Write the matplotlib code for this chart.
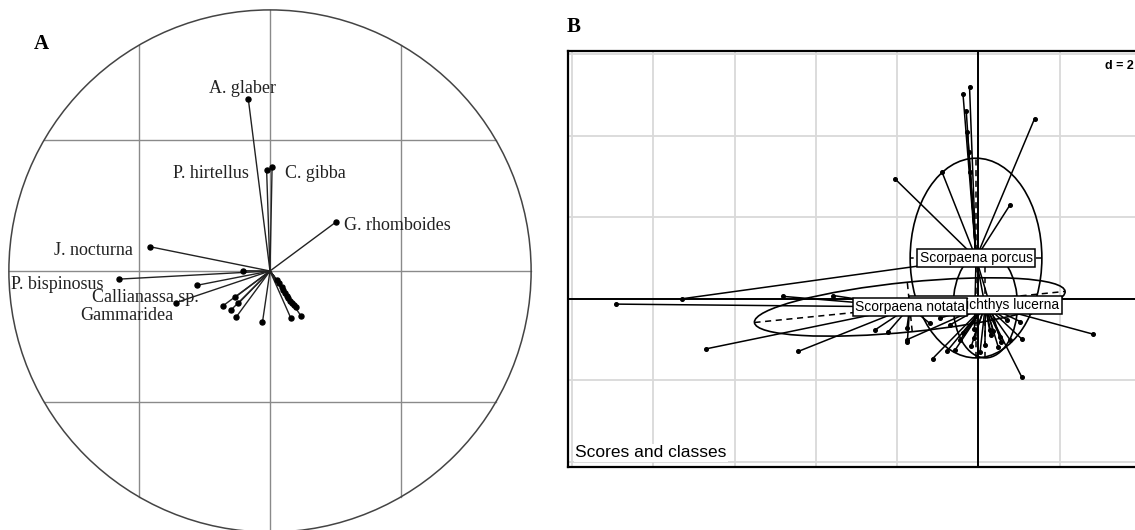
import numpy as np
import matplotlib
matplotlib.use("Agg")
import matplotlib.pyplot as plt
from matplotlib.patches import Circle, Ellipse

# ---- panel A : correlation circle (arrows) ----
arrow_x = [-0.083, -0.013, 0.008, 0.252, -0.460, -0.577, -0.360,
           -0.102, -0.281, -0.134, -0.121, -0.181, -0.149, -0.130,
           -0.029, 0.080, 0.118,
           0.026, 0.035, 0.045, 0.051, 0.057, 0.064, 0.070, 0.077, 0.083, 0.091, 0.100]
arrow_y = [0.658, 0.387, 0.397, 0.187, 0.093, -0.031, -0.121,
           0.001, -0.055, -0.101, -0.124, -0.134, -0.149, -0.177,
           -0.197, -0.181, -0.171,
           -0.034, -0.047, -0.060, -0.073, -0.086, -0.095, -0.105, -0.113, -0.121, -0.130, -0.139]

species = ["A. glaber", "P. hirtellus", "C. gibba", "G. rhomboides", "J. nocturna",
           "P. bispinosus", "Callianassa sp.", "Gammaridea"]
species_lx = [-0.106, -0.226, 0.172, 0.488, -0.677, -0.815, -0.479, -0.549]
species_ly = [0.700, 0.374, 0.374, 0.176, 0.080, -0.050, -0.101, -0.172]

# ---- panel B : scores and classes ----
classes = ["Chelidonichthys lucerna", "Scorpaena notata", "Scorpaena porcus"]
cent_x = [0.17, -1.69, -0.06]
cent_y = [-0.15, -0.20, 1.00]
ell_a = [1.30, 3.84, 2.45]      # semi major
ell_b = [0.79, 0.61, 1.62]      # semi minor
ell_ang = [90, 5.7, 90]

lucerna_x = [2.83, 1.07, -1.13, -0.78, -0.57, -0.18, 0.16, 0.49, 0.78, 1.07, 0.70, 1.03,
             -0.12, -0.37, 0.37, 0.53, 1.27, -0.94, -0.70, -0.45, 0.04, 0.29, -1.75]
lucerna_y = [-0.87, -1.93, -1.47, -1.29, -1.25, -1.17, -1.13, -1.19, -1.01, -0.99, -0.52, -0.56,
             -0.96, -0.84, -0.80, -0.93, -0.32, -0.47, -0.64, -1.01, -1.30, -0.76, -1.00]
notata_x = [-8.91, -4.81, -3.57, -6.71, -4.43, -2.54, -2.23, -1.75, -1.76, -1.20]
notata_y = [-0.13, 0.06, 0.08, -1.23, -1.29, -0.76, -0.82, -1.06, -0.72, -0.60]
porcus_x = [-0.22, -0.38, 1.38, -0.90, 0.78, -2.06, -7.30, -0.30, -0.27, -0.24, -0.20,
            0.55, 0.30, -0.10]
porcus_y = [5.21, 5.02, 4.42, 3.12, 2.31, 2.95, 0.00, 4.60, 4.10, 3.60, 3.10,
            -1.05, -0.90, -0.75]

pts_x = [lucerna_x, notata_x, porcus_x]
pts_y = [lucerna_y, notata_y, porcus_y]

W, H = 1135, 530
fig = plt.figure(figsize=(W / 100, H / 100), dpi=100)

# panel A
axA = fig.add_axes([0, 0, 540 / W, 1])
axA.set_xlim(-1.034, 1.034)
axA.set_ylim(-0.992, 1.038)
axA.axis("off")
grey = "#8a8a8a"
for g in [-0.5, 0, 0.5]:
    h = np.sqrt(1 - g ** 2)
    axA.plot([g, g], [-h, h], color=grey, lw=1.0, zorder=1)
    axA.plot([-h, h], [g, g], color=grey, lw=1.0, zorder=1)
axA.add_patch(Circle((0, 0), 1, fill=False, ec="#444444", lw=1.1, clip_on=False))
for x, y in zip(arrow_x, arrow_y):
    axA.plot([0, x], [0, y], color="#222222", lw=1.0, zorder=2)
axA.plot(arrow_x, arrow_y, "o", color="black", ms=3.6, zorder=3)
for s, x, y in zip(species, species_lx, species_ly):
    axA.text(x, y, s, ha="center", va="center", fontsize=13,
             family="Liberation Serif", color="#222222", zorder=4)

# panel B
x0, x1, y0, y1 = -10.09, 4.2, -4.12, 6.07
pxu = 40.65
left = 568.3 / W
axB = fig.add_axes([left, (H - 466.7) / H, (x1 - x0) * pxu / W, (y1 - y0) * 40.75 / H])
axB.set_xlim(x0, x1)
axB.set_ylim(y0, y1)
axB.set_xticks([])
axB.set_yticks([])
for sp in axB.spines.values():
    sp.set_linewidth(1.6)
for g in range(-10, 5, 2):
    axB.axvline(g, color="#d9d9d9", lw=1.3, zorder=0)
for g in range(-4, 7, 2):
    axB.axhline(g, color="#d9d9d9", lw=1.3, zorder=0)
axB.axvline(0, color="black", lw=1.4, zorder=1)
axB.axhline(0, color="black", lw=1.4, zorder=1)

for k in range(3):
    cx, cy = cent_x[k], cent_y[k]
    for x, y in zip(pts_x[k], pts_y[k]):
        axB.plot([cx, x], [cy, y], color="black", lw=1.1, zorder=2)
    axB.plot(pts_x[k], pts_y[k], "o", color="black", ms=2.6, zorder=3)
    axB.add_patch(Ellipse((cx, cy), 2 * ell_a[k], 2 * ell_b[k], angle=ell_ang[k],
                          fill=False, ec="black", lw=1.2, zorder=3))
    t = np.deg2rad(ell_ang[k])
    for r, th in [(ell_a[k], t), (ell_b[k], t + np.pi / 2)]:
        axB.plot([cx - r * np.cos(th), cx + r * np.cos(th)],
                 [cy - r * np.sin(th), cy + r * np.sin(th)],
                 color="black", lw=1.1, ls=(0, (4, 3)), zorder=3)

for k, z in zip(range(3), [5, 7, 6]):
    axB.text(cent_x[k], cent_y[k], classes[k], ha="center", va="center", fontsize=10,
             family="Liberation Sans", zorder=z,
             bbox=dict(boxstyle="square,pad=0.15", fc="white", ec="black", lw=1.1))

axB.text(0.012, 0.023, "Scores and classes", transform=axB.transAxes, fontsize=12.5,
         family="Liberation Sans", ha="left", va="baseline", zorder=8,
         bbox=dict(fc="white", ec="none", pad=1))
fig.text(1105 / W, (H - 66) / H, "d = 2", fontsize=9, fontweight="bold",
         family="Liberation Sans", ha="left", va="center")

fig.text(41 / W, (H - 44) / H, "A", fontsize=15, fontweight="bold",
         family="Liberation Serif", ha="center", va="center")
fig.text(574 / W, (H - 27) / H, "B", fontsize=15, fontweight="bold",
         family="Liberation Serif", ha="center", va="center")

fig.savefig("out.png", dpi=100)
